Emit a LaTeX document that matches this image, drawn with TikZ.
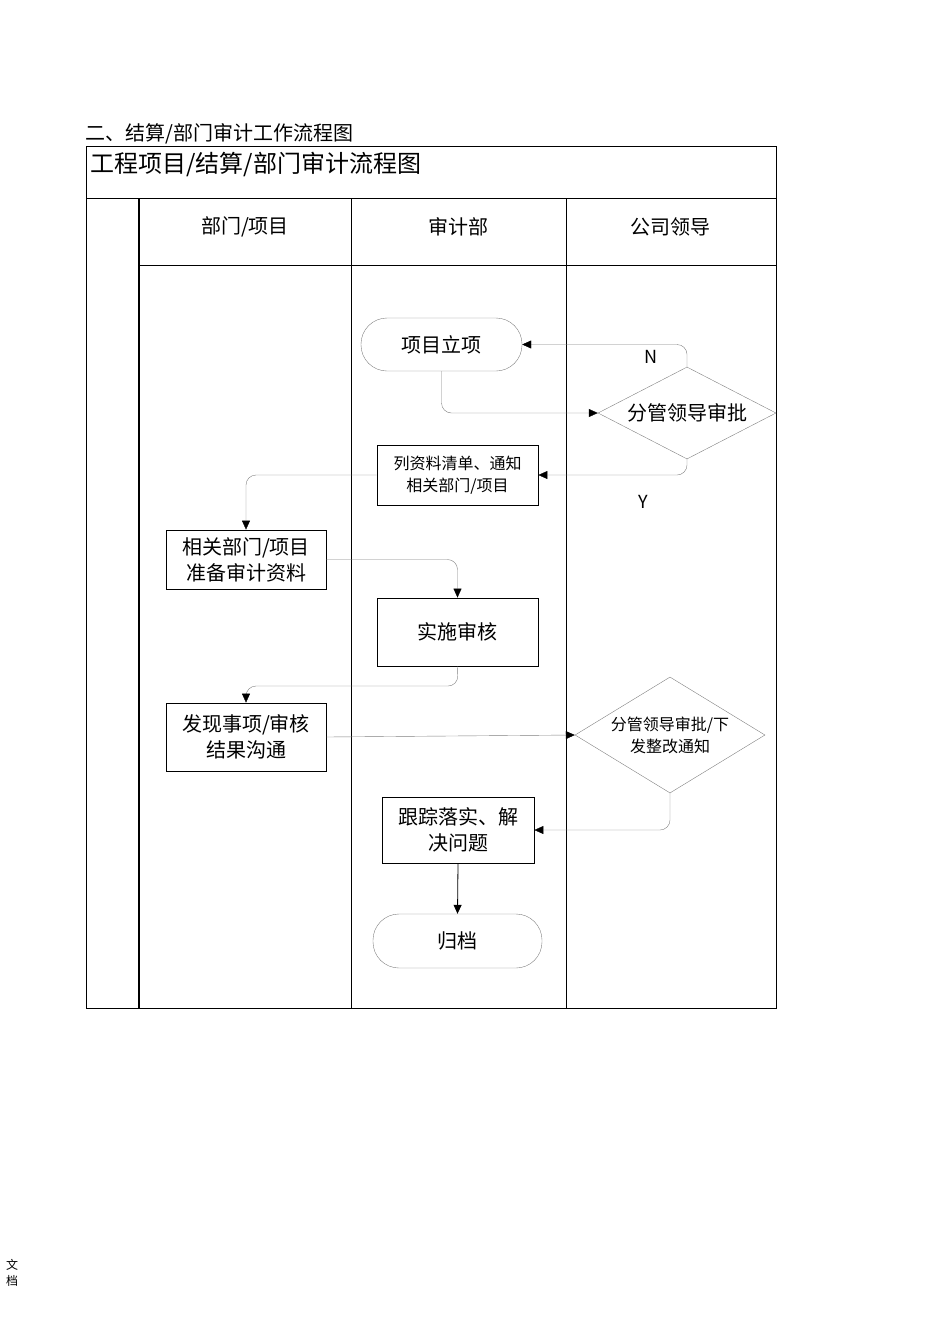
\documentclass[tikz,border=0pt]{standalone}
\usepackage{fontspec}
\setmainfont{Noto Sans CJK SC}
\usetikzlibrary{positioning, calc, shapes, arrows.meta, fit}
\tikzset{
  box/.style = {draw, thick, inner sep=0pt, font=\fontsize{20}{26}\selectfont, align=center},
  term/.style = {draw=gray, rounded corners=26pt, inner sep=0pt, font=\fontsize{20}{24}\selectfont},
  choice/.style = {draw=gray, diamond, aspect=1.9, inner sep=0pt, font=\fontsize{20}{24}\selectfont, align=center},
  flow/.style = {draw=gray, rounded corners=10pt, -{Triangle[black, length=9pt, width=8pt]}},
  lane/.style = {font=\fontsize{20}{24}\selectfont}
}
\begin{document}
\begin{tikzpicture}[x=1pt, y=-1pt]
\useasboundingbox (0,0) rectangle (950,1344);
% frame and lanes
\node[anchor=base west, lane, inner sep=0pt] (title) at (85,140) {二、结算/部门审计工作流程图};
\draw[thick] (86,146) rectangle (776,1008);
\draw (86,198) -- (776,198);
\draw (139,265) -- (776,265);
\draw[very thick] (139,198) -- (139,1008);
\draw (351,198) -- (351,1008);
\draw (566,198) -- (566,1008);
\node[anchor=west, font=\fontsize{24}{28}\selectfont, inner sep=0pt] (head) at (90,164) {工程项目/结算/部门审计流程图};
\node[lane] (laneA) at (245,227) {部门/项目};
\node[lane] (laneB) at (458,227) {审计部};
\node[lane] (laneC) at (670,227) {公司领导};
% nodes
\node[term, minimum width=161pt, minimum height=53pt] (start) at (441.5,344.5) {项目立项};
\node[choice, minimum width=178pt, minimum height=92pt] (ok) at (687,413) {分管领导审批};
\node[box, minimum width=161pt, minimum height=60pt, font=\fontsize{16}{22}\selectfont] (list) at (457.5,475) {列资料清单、通知\\相关部门/项目};
\node[box, minimum width=160pt, minimum height=59pt] (prep) at (246,559.5) {相关部门/项目\\准备审计资料};
\node[box, minimum width=161pt, minimum height=68pt] (check) at (457.5,632) {实施审核};
\node[box, minimum width=160pt, minimum height=68pt] (find) at (246,737) {发现事项/审核\\结果沟通};
\node[choice, minimum width=190pt, minimum height=116pt, font=\fontsize{16}{22}\selectfont] (notice) at (670,735) {分管领导审批/下\\发整改通知};
\node[box, minimum width=152pt, minimum height=66pt] (track) at (458,830) {跟踪落实、解\\决问题};
\node[term, minimum width=169pt, minimum height=54pt] (archive) at (457.5,941) {归档};
% connectors
\draw[flow] (ok.north) |- (start.east);
\node[font=\fontsize{18}{20}\selectfont] (labN) at (651,357) {N};
\draw[flow] (start.south) |- (ok.west);
\draw[flow] (ok.south) |- (list.east);
\node[font=\fontsize{18}{20}\selectfont] (labY) at (643,502) {Y};
\draw[flow] (list.west) -| (prep.north);
\draw[flow] (prep.east) -| (check.north);
\coordinate (bend) at (458,686);
\draw[flow] (check.south) -- (bend) -| (find.north);
\draw[flow] (find.east) -- (notice.west);
\draw[flow] (notice.south) |- (track.east);
\draw[thick, -{Triangle[length=9pt, width=8pt]}] (track.south) -- (archive.north);
% footer
\node[font=\fontsize{12}{16}\selectfont, align=center, inner sep=0pt] (foot) at (12,1273) {文\\档};
\end{tikzpicture}
\end{document}
